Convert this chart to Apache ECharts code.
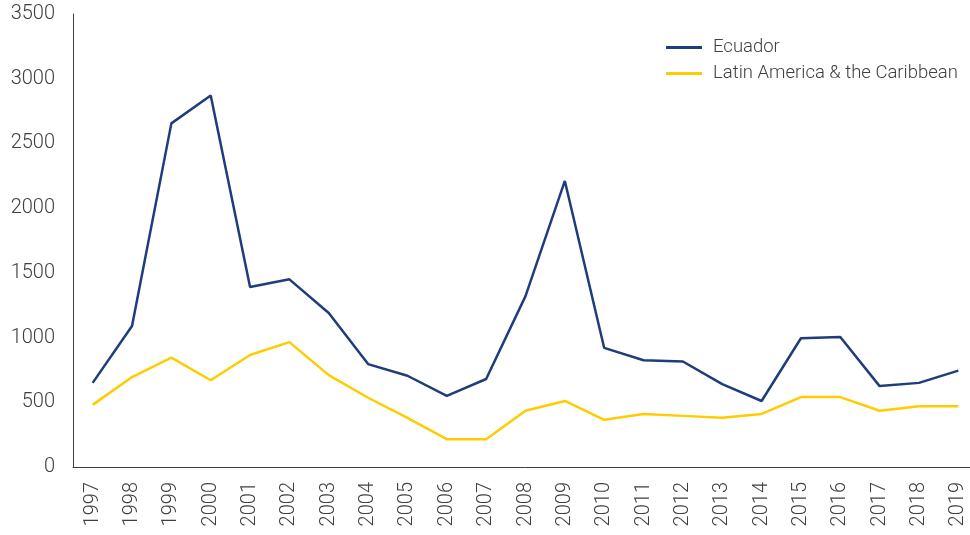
<!DOCTYPE html>
<html>
<head>
<meta charset="utf-8">
<script src="https://cdn.jsdelivr.net/npm/echarts@6/dist/echarts.min.js"></script>
<style>
  html, body { margin: 0; padding: 0; background: #fff; overflow: hidden; }
  #grafica { width: 990px; height: 535px; }
</style>
</head>
<body>
<div id="grafica"></div>
<script>
// datos del grafico
var anios = ['1997', '1998', '1999', '2000', '2001', '2002', '2003', '2004', '2005', '2006', '2007', '2008',
    '2009', '2010', '2011', '2012', '2013', '2014', '2015', '2016', '2017', '2018', '2019'];
var ecuador = [650, 1090, 2655, 2870, 1390, 1450, 1190, 795, 705, 550, 680, 1320,
    2210, 920, 825, 815, 640, 510, 995, 1005, 625, 650, 745];
var latam = [480, 695, 845, 670, 865, 965, 710, 535, 380, 215, 215, 435,
    510, 365, 410, 395, 380, 410, 540, 540, 435, 470, 470];

// el div es algo mas ancho que la ventana para que la rejilla no se recorte
var grafico = echarts.init(document.getElementById('grafica'), null, { renderer: 'canvas' });
var textoColor = '#404040';
var fuente = 'Roboto';

var option = {
    animation: false,
    textStyle: { fontFamily: fuente, fontWeight: 300 },
    grid: { left: 73, top: 14, width: 905, bottom: 68, containLabel: false },
    legend: {
        orient: 'vertical',
        left: 661,
        top: 33,
        itemWidth: 36,
        itemHeight: 3,
        itemGap: 7,
        icon: 'rect',
        textStyle: { color: textoColor, fontSize: 18.5, fontFamily: fuente, fontWeight: 300, padding: [0, 0, 0, 6] },
        data: ['Ecuador', 'Latin America & the Caribbean']
    },
    xAxis: {
        type: 'category',
        data: anios,
        boundaryGap: true,
        axisLine: { lineStyle: { color: '#404040', width: 1 } },
        axisTick: { show: false },
        axisLabel: {
            rotate: 90,
            interval: 0,
            margin: 15,
            color: textoColor,
            fontSize: 20,
            fontFamily: fuente,
            fontWeight: 300
        }
    },
    yAxis: {
        type: 'value',
        min: 0,
        max: 3500,
        interval: 500,
        axisLine: { show: true, lineStyle: { color: '#404040', width: 1 } },
        axisTick: { show: false },
        splitLine: { show: false },
        axisLabel: {
            margin: 18,
            color: textoColor,
            fontSize: 20,
            fontFamily: fuente,
            fontWeight: 300,
            formatter: function (v) { return String(v); }
        }
    },
    series: [
        {
            name: 'Ecuador',
            type: 'line',
            data: ecuador,
            symbol: 'none',
            lineStyle: { color: '#1f3c7c', width: 2.5 },
            itemStyle: { color: '#1f3c7c' }
        },
        {
            name: 'Latin America & the Caribbean',
            type: 'line',
            data: latam,
            symbol: 'none',
            lineStyle: { color: '#ffcc00', width: 2.5 },
            itemStyle: { color: '#ffcc00' }
        }
    ]
};

grafico.setOption(option);
</script>
</body>
</html>
